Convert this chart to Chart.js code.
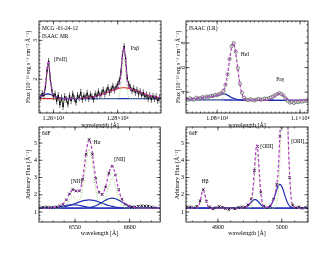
<!DOCTYPE html>
<html>
<head>
<meta charset="utf-8">
<script src="https://cdn.jsdelivr.net/npm/chart.js@4.4.0/dist/chart.umd.min.js"></script>
<style>
  body { margin: 0; background: #fff; width: 330px; height: 255px; position: relative; overflow: hidden; }
  canvas { position: absolute; }
</style>
</head>
<body>
<canvas id="pA" width="165" height="131" style="left:0;top:0"></canvas>
<canvas id="pB" width="165" height="131" style="left:165px;top:0"></canvas>
<canvas id="pC" width="165" height="130" style="left:0;top:110px"></canvas>
<canvas id="pD" width="165" height="130" style="left:165px;top:110px"></canvas>
<script>
// ---- panel A: MCG -01-24-12, ISAAC MR ([FeII], Pa-beta) ----
const dataA_x = [12560,12565,12570,12575,12580,12585,12590,12595,12600,12605,12610,12615,12620,12625,12630,12635,12640,12645,12650,12655,12660,12665,12670,12675,12680,12685,12690,12695,12700,12705,12710,12715,12720,12725,12730,12735,12740,12745,12750,12755,12760,12765,12770,12775,12780,12785,12790,12795,12800,12805,12810,12815,12820,12825,12830,12835,12840,12845,12850,12855,12860,12865,12870,12875,12880,12885,12890,12895,12900,12905,12910,12915,12920,12925,12930];
const dataA_y = [1.52,1.63,1.58,1.80,2.22,2.46,2.02,1.72,1.55,1.62,1.44,1.58,1.35,1.52,1.30,1.55,1.48,1.36,1.57,1.45,1.62,1.50,1.41,1.58,1.52,1.66,1.48,1.57,1.52,1.64,1.50,1.60,1.55,1.48,1.62,1.56,1.68,1.58,1.64,1.72,1.62,1.70,1.78,1.66,1.74,1.82,1.72,1.80,1.86,1.95,2.18,2.65,2.84,2.52,2.02,1.86,1.78,1.70,1.76,1.66,1.72,1.62,1.68,1.58,1.65,1.55,1.60,1.50,1.58,1.48,1.56,1.50,1.55,1.45,1.52];
const fitA_x = [12555,12565,12570,12575,12580,12584,12588,12593,12600,12610,12630,12660,12690,12720,12750,12770,12790,12800,12805,12810,12815,12819,12823,12828,12833,12840,12860,12880,12900,12935];
const fitA_total = [1.539,1.579,1.629,1.831,2.269,2.469,2.264,1.82,1.586,1.536,1.503,1.502,1.51,1.538,1.605,1.67,1.734,1.765,1.837,2.115,2.619,2.83,2.619,2.117,1.84,1.76,1.703,1.636,1.578,1.52];
const fitA_cont = [1.539,1.577,1.596,1.611,1.619,1.619,1.614,1.60,1.573,1.536,1.503,1.50,1.50,1.50,1.50,1.50,1.50,1.50,1.50,1.50,1.50,1.50,1.50,1.50,1.50,1.50,1.50,1.50,1.50,1.50];
const fitA_broad = [1.50,1.50,1.50,1.50,1.50,1.50,1.50,1.50,1.50,1.50,1.50,1.502,1.51,1.538,1.605,1.67,1.734,1.758,1.768,1.774,1.779,1.78,1.78,1.776,1.771,1.758,1.703,1.636,1.578,1.52];
const fitA_narrow = [1.50,1.502,1.533,1.72,2.15,2.35,2.15,1.72,1.513,1.50,1.50,1.50,1.50,1.50,1.50,1.50,1.50,1.507,1.569,1.841,2.34,2.55,2.34,1.841,1.569,1.502,1.50,1.50,1.50,1.50];

// ---- panel B: ISAAC (LR) (HeI, Pa-gamma) ----
const dataB_x = [10725,10730,10735,10740,10745,10750,10755,10760,10765,10770,10775,10780,10785,10790,10795,10800,10805,10810,10815,10820,10825,10830,10835,10840,10845,10850,10855,10860,10865,10870,10875,10880,10885,10890,10895,10900,10905,10910,10915,10920,10925,10930,10935,10940,10945,10950,10955,10960,10965,10970,10975,10980,10985,10990,10995,11000,11005,11010,11015];
const dataB_y = [3.45,3.38,3.50,3.42,3.40,3.55,3.48,3.52,3.60,3.55,3.65,3.62,3.70,3.68,3.78,3.75,3.85,3.90,4.10,4.60,5.45,6.70,7.75,8.00,7.30,5.95,4.70,3.95,3.55,3.40,3.35,3.42,3.38,3.32,3.40,3.45,3.38,3.42,3.48,3.45,3.52,3.58,3.65,3.75,3.85,3.92,3.85,3.72,3.50,3.30,3.15,3.20,3.12,3.22,3.18,3.25,3.22,3.30,3.28];
const fitB_x = [10725,10740,10760,10780,10800,10810,10815,10820,10825,10830,10835,10839,10843,10848,10853,10858,10865,10875,10890,10910,10925,10935,10942,10950,10958,10965,10975,10990,11019];
const fitB_total = [3.43,3.457,3.523,3.619,3.745,3.893,4.112,4.581,5.45,6.659,7.708,7.997,7.596,6.405,5.064,4.103,3.502,3.357,3.347,3.343,3.38,3.558,3.756,3.885,3.753,3.551,3.369,3.326,3.32];
const fitB_cont = [3.38,3.377,3.373,3.369,3.365,3.363,3.362,3.361,3.36,3.359,3.358,3.357,3.356,3.355,3.354,3.353,3.352,3.35,3.347,3.343,3.34,3.338,3.336,3.335,3.333,3.331,3.329,3.326,3.32];
const fitB_broad = [3.43,3.457,3.523,3.619,3.745,3.823,3.862,3.841,3.76,3.659,3.558,3.497,3.446,3.405,3.374,3.363,3.352,3.35,3.347,3.343,3.34,3.338,3.336,3.335,3.333,3.331,3.329,3.326,3.32];
const fitB_narrow = [3.38,3.377,3.373,3.369,3.365,3.433,3.612,4.101,5.05,6.359,7.508,7.857,7.506,6.355,5.044,4.093,3.502,3.357,3.347,3.343,3.38,3.558,3.756,3.885,3.753,3.551,3.369,3.326,3.32];

// ---- panel C: 6dF, H-alpha + [NII] ----
const dataC_x = [6518,6521,6524,6527,6530,6533,6536,6539,6542,6545,6548,6551,6554,6557,6560,6563,6566,6569,6572,6575,6578,6581,6584,6587,6590,6593,6596,6599,6602,6605,6608,6611,6614,6617,6620,6623];
const dataC_y = [1.25,1.28,1.30,1.27,1.28,1.30,1.36,1.45,1.70,2.05,2.30,2.22,2.22,2.90,4.35,5.20,4.35,2.95,2.15,2.02,2.45,3.25,3.65,3.15,2.30,1.75,1.45,1.35,1.30,1.30,1.33,1.36,1.35,1.34,1.30,1.25];
const fitC_x = [6516,6525,6532,6538,6542,6545,6548,6551,6553,6555,6557,6559,6561,6563,6565,6567,6569,6571,6574,6577,6579,6581,6584,6587,6589,6591,6594,6598,6603,6610,6628];
const fitC_total = [1.221,1.231,1.278,1.412,1.699,2.063,2.303,2.236,2.182,2.356,2.927,3.866,4.797,5.198,4.797,3.863,2.913,2.285,2.003,2.277,2.715,3.246,3.654,3.155,2.564,2.059,1.627,1.404,1.285,1.229,1.22];
const fitC_narrow = [1.22,1.22,1.22,1.249,1.435,1.718,1.883,1.756,1.672,1.824,2.382,3.305,4.228,4.63,4.228,3.29,2.331,1.69,1.375,1.605,2.021,2.541,2.97,2.541,2.021,1.598,1.297,1.224,1.22,1.22,1.22];
const fitC_broadN1 = [1.22,1.228,1.261,1.328,1.38,1.409,1.42,1.409,1.391,1.368,1.341,1.315,1.29,1.27,1.254,1.242,1.233,1.227,1.223,1.22,1.22,1.22,1.22,1.22,1.22,1.22,1.22,1.22,1.22,1.22,1.22];
const fitC_broadHa = [1.22,1.223,1.237,1.275,1.324,1.376,1.44,1.511,1.559,1.604,1.644,1.674,1.693,1.70,1.693,1.674,1.644,1.604,1.535,1.463,1.417,1.376,1.324,1.285,1.266,1.252,1.237,1.227,1.222,1.22,1.22];
const fitC_broadN2 = [1.22,1.22,1.22,1.22,1.22,1.22,1.22,1.22,1.221,1.223,1.226,1.232,1.242,1.258,1.282,1.317,1.365,1.424,1.533,1.649,1.717,1.769,1.80,1.769,1.717,1.649,1.533,1.393,1.283,1.229,1.22];
const contC_x = [6517, 6628];
const contC_y = [1.22, 1.22];

// ---- panel D: 6dF, H-beta + [OIII] ----
const dataD_x = [4852,4857,4862,4867,4872,4877,4882,4887,4892,4897,4902,4907,4912,4917,4922,4927,4932,4937,4942,4947,4952,4957,4962,4967,4972,4977,4982,4987,4992,4997,5002,5007,5012,5017,5022,5027,5032,5037];
const dataD_y = [1.28,1.30,1.25,1.33,1.65,2.30,1.62,1.30,1.18,1.25,1.32,1.28,1.20,1.15,1.22,1.18,1.26,1.30,1.28,1.42,1.75,3.40,4.80,2.15,1.35,1.25,1.35,1.75,2.60,5.40,10.8,9.4,3.0,1.40,1.25,1.30,1.22,1.26];
const fitD_x = [4850,4860,4866,4870,4873,4875,4877,4879,4881,4884,4888,4895,4910,4930,4940,4945,4950,4953,4955,4957,4959,4961,4963,4965,4967,4970,4974,4980,4985,4988,4991,4994,4997,4999,5001,5003,5004,5005,5007,5009,5011,5014,5018,5024,5030,5041];
const fitD_total = [1.22,1.22,1.228,1.362,1.766,2.112,2.27,2.112,1.766,1.362,1.228,1.22,1.22,1.22,1.238,1.309,1.503,1.843,2.416,3.39,4.449,4.896,4.341,3.198,2.179,1.453,1.264,1.294,1.539,1.842,2.325,3.298,5.48,7.75,10.12,11.6,11.72,11.36,9.45,6.74,4.29,2.11,1.311,1.22,1.22,1.22];
const fitD_narrow = [1.22,1.22,1.228,1.362,1.766,2.112,2.27,2.112,1.766,1.362,1.228,1.22,1.22,1.22,1.22,1.22,1.243,1.456,1.96,2.895,3.954,4.44,3.954,2.895,1.96,1.338,1.221,1.22,1.221,1.237,1.369,2.038,4.10,6.42,8.95,10.64,10.88,10.64,8.95,6.42,4.10,2.038,1.296,1.22,1.22,1.22];
const fitD_broad1 = [1.22,1.22,1.22,1.22,1.22,1.22,1.22,1.22,1.22,1.22,1.22,1.22,1.22,1.22,1.238,1.309,1.48,1.607,1.676,1.715,1.715,1.676,1.607,1.523,1.439,1.335,1.257,1.222,1.22,1.22,1.22,1.22,1.22,1.22,1.22,1.22,1.22,1.22,1.22,1.22,1.22,1.22,1.22,1.22,1.22,1.22];
const fitD_broad2 = [1.22,1.22,1.22,1.22,1.22,1.22,1.22,1.22,1.22,1.22,1.22,1.22,1.22,1.22,1.22,1.22,1.22,1.22,1.22,1.22,1.22,1.22,1.22,1.22,1.22,1.221,1.226,1.292,1.538,1.825,2.176,2.48,2.60,2.545,2.392,2.176,2.057,1.937,1.717,1.538,1.407,1.292,1.235,1.221,1.22,1.22];
const contD_x = [4850, 5041];
const contD_y = [1.22, 1.22];

const pts = (xs, ys) => xs.map((x, i) => ({ x: x, y: ys[i] }));

const MAGENTA = '#b43cc8';
const GREEN = '#9ad46a';
const BLUE = '#2430b4';
const RED = '#d02828';

Chart.defaults.font.family = "'Liberation Serif', 'DejaVu Serif', serif";
Chart.defaults.color = '#000';

// box round the plot with inward ticks on all four sides
const framePlugin = {
  id: 'frame',
  afterDatasetsDraw(chart, args, o) {
    const { ctx, chartArea: a, scales: { x, y } } = chart;
    ctx.save();
    ctx.strokeStyle = '#000';
    ctx.lineWidth = 0.8;
    ctx.strokeRect(a.left, a.top, a.right - a.left, a.bottom - a.top);
    const mark = (px, horiz, len) => {
      ctx.beginPath();
      if (horiz) {
        ctx.moveTo(px, a.bottom); ctx.lineTo(px, a.bottom - len);
        ctx.moveTo(px, a.top); ctx.lineTo(px, a.top + len);
      } else {
        ctx.moveTo(a.left, px); ctx.lineTo(a.left + len, px);
        ctx.moveTo(a.right, px); ctx.lineTo(a.right - len, px);
      }
      ctx.stroke();
    };
    ctx.lineWidth = 0.6;
    for (let v = Math.ceil(x.min / o.xMinor) * o.xMinor; v <= x.max; v += o.xMinor) mark(x.getPixelForValue(v), true, 1.5);
    for (let v = Math.ceil(y.min / o.yMinor) * o.yMinor; v <= y.max; v += o.yMinor) mark(y.getPixelForValue(v), false, 1.5);
    o.xMajor.forEach(v => mark(x.getPixelForValue(v), true, 3.5));
    o.yMajor.forEach(v => mark(y.getPixelForValue(v), false, 3.5));
    ctx.restore();
  }
};

// vertical error bars on the data points
const errPlugin = {
  id: 'errbars',
  beforeDatasetsDraw(chart) {
    const { ctx, scales: { x, y }, chartArea: a } = chart;
    ctx.save();
    ctx.beginPath();
    ctx.rect(a.left, a.top, a.right - a.left, a.bottom - a.top);
    ctx.clip();
    chart.data.datasets.forEach(ds => {
      if (!ds.errBar) return;
      ctx.strokeStyle = ds.errColor || '#000';
      ctx.lineWidth = 0.6;
      ds.data.forEach(p => {
        const px = x.getPixelForValue(p.x);
        ctx.beginPath();
        ctx.moveTo(px, y.getPixelForValue(p.y - ds.errBar));
        ctx.lineTo(px, y.getPixelForValue(p.y + ds.errBar));
        ctx.stroke();
      });
    });
    ctx.restore();
  }
};

// line names and panel captions
const notesPlugin = {
  id: 'notes',
  afterDraw(chart, args, o) {
    const { ctx, scales: { x, y }, chartArea: a } = chart;
    ctx.save();
    ctx.fillStyle = '#000';
    ctx.textBaseline = 'middle';
    (o.items || []).forEach(n => {
      ctx.font = (n.size || 5.5) + "px 'Liberation Serif', serif";
      if (n.corner) {
        ctx.textAlign = 'left';
        ctx.fillText(n.t, a.left + n.dx, a.top + n.dy);
      } else {
        ctx.textAlign = 'center';
        ctx.fillText(n.t, x.getPixelForValue(n.x), y.getPixelForValue(n.y));
      }
    });
    ctx.restore();
  }
};

function fitLine(data, color, dash, width) {
  return {
    data: data, borderColor: color, borderWidth: width || 1, borderDash: dash || [],
    pointRadius: 0, fill: false, cubicInterpolationMode: 'monotone'
  };
}

function panel(id, o) {
  return new Chart(document.getElementById(id), {
    type: 'line',
    data: { datasets: o.datasets },
    options: {
      responsive: false,
      animation: false,
      devicePixelRatio: 1,
      layout: { padding: o.pad },
      plugins: {
        legend: { display: false },
        tooltip: { enabled: false },
        frame: o.frame,
        notes: { items: o.notes }
      },
      scales: {
        x: {
          type: 'linear', min: o.xMin, max: o.xMax,
          grid: { display: false, drawTicks: false }, border: { display: false },
          afterBuildTicks: s => { s.ticks = o.frame.xMajor.map(v => ({ value: v })); },
          afterFit: s => { s.height = 18; },
          ticks: { autoSkip: false, maxRotation: 0, padding: 1.5, font: { size: 6 }, callback: (v, i) => o.xLabels[i] },
          title: { display: true, text: 'wavelength [Å]', font: { size: 6 }, padding: { top: 0, bottom: o.xTitlePad } }
        },
        y: {
          type: 'linear', min: o.yMin, max: o.yMax,
          grid: { display: false, drawTicks: false }, border: { display: false },
          afterBuildTicks: s => { s.ticks = o.frame.yMajor.map(v => ({ value: v })); },
          afterFit: s => { s.width = o.yW; },
          ticks: {
            autoSkip: false, padding: o.yTickPad, font: { size: 6 },
            minRotation: o.yRot, maxRotation: o.yRot, crossAlign: o.yRot ? 'center' : 'near',
            callback: v => String(v)
          },
          title: { display: true, text: o.yTitle, font: { size: 6 }, padding: { top: o.yTitlePad, bottom: 0 } }
        }
      }
    },
    plugins: [errPlugin, framePlugin, notesPlugin]
  });
}

const FLUX = 'Flux [10⁻¹⁶ erg s⁻¹ cm⁻² Å⁻¹]';
const ARB = 'Arbitrary Flux [Å⁻¹]';

panel('pA', {
  xMin: 12555, xMax: 12935, yMin: 1.13, yMax: 3.5,
  pad: { top: 21, right: 4, left: 0, bottom: 0 }, yW: 39, yRot: 90, yTickPad: 2.5, yTitlePad: 25, xTitlePad: 2.4,
  yTitle: FLUX, xLabels: ['1.26×10⁴', '1.28×10⁴'],
  frame: { xMajor: [12600, 12800], xMinor: 20, yMajor: [2, 3], yMinor: 0.1 },
  notes: [
    { t: 'MCG -01-24-12', corner: true, dx: 3, dy: 8 },
    { t: 'ISAAC MR', corner: true, dx: 3, dy: 16 },
    { t: '[FeII]', x: 12622, y: 2.5 },
    { t: 'Paβ', x: 12854, y: 2.8 }
  ],
  datasets: [
    fitLine(pts(fitA_x, fitA_total), MAGENTA, [3, 2], 1.2),
    { data: pts(dataA_x, dataA_y), borderColor: '#000', borderWidth: 0.8, pointRadius: 0.8, pointBackgroundColor: '#000', pointBorderWidth: 0, errBar: 0.09 },
    fitLine(pts(fitA_x, fitA_narrow), GREEN, [1, 1.5], 1),
    fitLine(pts(fitA_x, fitA_cont), BLUE, [], 1.3),
    fitLine(pts(fitA_x, fitA_broad), RED, [], 1.1)
  ]
});

panel('pB', {
  xMin: 10725, xMax: 11019, yMin: 2.3, yMax: 9.8,
  pad: { top: 21, right: 22, left: 0, bottom: 0 }, yW: 21, yRot: 90, yTickPad: 1.5, yTitlePad: 9.4, xTitlePad: 2.4,
  yTitle: FLUX, xLabels: ['1.08×10⁴', '1.1×10⁴'],
  frame: { xMajor: [10800, 11000], xMinor: 10, yMajor: [4, 6, 8], yMinor: 0.5 },
  notes: [
    { t: 'ISAAC (LR)', corner: true, dx: 3, dy: 8 },
    { t: 'HeI', x: 10867, y: 7.03 },
    { t: 'Paγ', x: 10952, y: 4.99 }
  ],
  datasets: [
    fitLine(pts(fitB_x, fitB_total), MAGENTA, [3, 2], 1.2),
    { data: pts(dataB_x, dataB_y), showLine: false, pointRadius: 1.6, pointStyle: 'circle', pointBorderColor: '#555', pointBackgroundColor: 'rgba(255,255,255,0.6)', pointBorderWidth: 0.7, errBar: 0.08, errColor: '#555' },
    fitLine(pts(fitB_x, fitB_narrow), GREEN, [1, 1.5], 1),
    fitLine(pts(fitB_x, fitB_broad), BLUE, [], 1.3),
    fitLine(pts(fitB_x, fitB_cont), BLUE, [], 1.3)
  ]
});

panel('pC', {
  xMin: 6517, xMax: 6628, yMin: 0.42, yMax: 5.93,
  pad: { top: 17, right: 4, left: 0, bottom: 0 }, yW: 39, yRot: 0, yTickPad: 2, yTitlePad: 24.4, xTitlePad: 3.4,
  yTitle: ARB, xLabels: ['6550', '6600'],
  frame: { xMajor: [6550, 6600], xMinor: 10, yMajor: [1, 2, 3, 4, 5], yMinor: 0.2 },
  notes: [
    { t: '6dF', corner: true, dx: 3, dy: 7 },
    { t: 'Hα', x: 6570, y: 5.0 },
    { t: '[NII]', x: 6591, y: 4.02 },
    { t: '[NII]', x: 6551.5, y: 2.74 }
  ],
  datasets: [
    fitLine(pts(fitC_x, fitC_total), MAGENTA, [3, 2], 1.2),
    { data: pts(dataC_x, dataC_y), showLine: false, pointRadius: 1.8, pointStyle: 'crossRot', pointBorderColor: '#000', pointBorderWidth: 0.8, errBar: 0.06 },
    fitLine(pts(fitC_x, fitC_narrow), GREEN, [1, 1.5], 1),
    fitLine(pts(fitC_x, fitC_broadN1), BLUE, [], 1.2),
    fitLine(pts(fitC_x, fitC_broadHa), BLUE, [], 1.2),
    fitLine(pts(fitC_x, fitC_broadN2), BLUE, [], 1.2),
    fitLine(pts(contC_x, contC_y), BLUE, [], 1.2)
  ]
});

panel('pD', {
  xMin: 4850, xMax: 5041, yMin: 0.42, yMax: 5.93,
  pad: { top: 17, right: 22, left: 0, bottom: 0 }, yW: 21, yRot: 0, yTickPad: 2, yTitlePad: 8.4, xTitlePad: 3.4,
  yTitle: ARB, xLabels: ['4900', '5000'],
  frame: { xMajor: [4900, 5000], xMinor: 20, yMajor: [1, 2, 3, 4, 5], yMinor: 0.2 },
  notes: [
    { t: '6dF', corner: true, dx: 3, dy: 7 },
    { t: 'Hβ', x: 4880, y: 2.74 },
    { t: '[OIII]', x: 4976.6, y: 4.77 },
    { t: '[OIII]', x: 5025, y: 5.06 }
  ],
  datasets: [
    fitLine(pts(fitD_x, fitD_total), MAGENTA, [3, 2], 1.2),
    { data: pts(dataD_x, dataD_y), showLine: false, pointRadius: 1.8, pointStyle: 'crossRot', pointBorderColor: '#000', pointBorderWidth: 0.8, errBar: 0.06 },
    fitLine(pts(fitD_x, fitD_narrow), GREEN, [1, 1.5], 1),
    fitLine(pts(fitD_x, fitD_broad1), BLUE, [], 1.2),
    fitLine(pts(fitD_x, fitD_broad2), BLUE, [], 1.2),
    fitLine(pts(contD_x, contD_y), BLUE, [], 1.2)
  ]
});
</script>
</body>
</html>
